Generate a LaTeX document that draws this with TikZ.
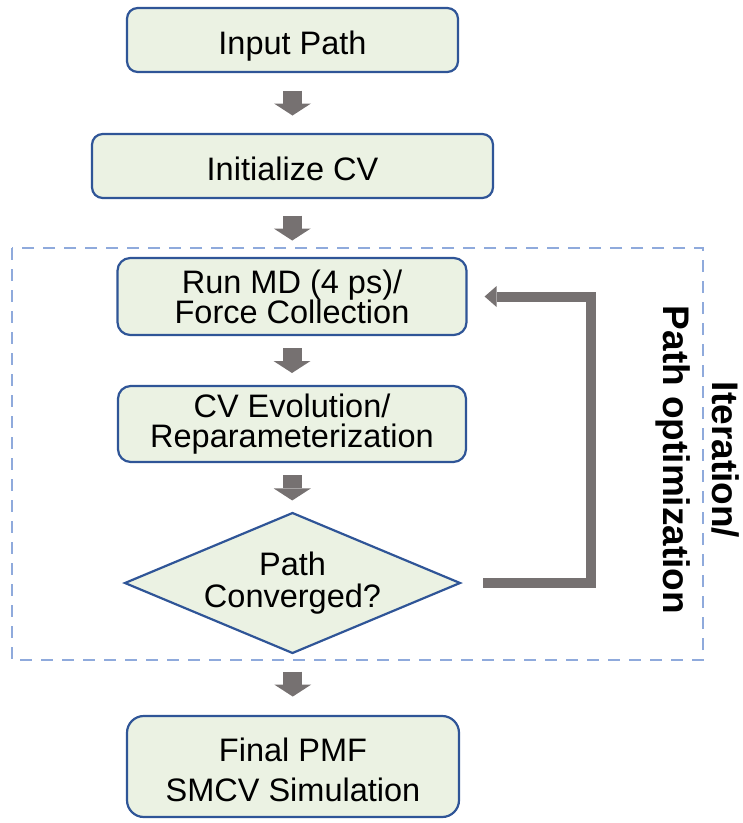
\documentclass[tikz,border=0pt]{standalone}
\usepackage{fontspec}
\setmainfont{Liberation Sans}
\usetikzlibrary{arrows.meta,calc}
\definecolor{boxfill}{HTML}{EBF2E3}
\definecolor{boxline}{HTML}{2F5597}
\definecolor{arrowgray}{HTML}{767171}
\definecolor{dashblue}{HTML}{8FAADC}
\newcommand\flowfont{\fontsize{32.5}{30}\selectfont\lineskiplimit=-100pt\relax}
\newcommand\sidefont{\fontsize{37}{49}\selectfont\bfseries\lineskiplimit=-100pt\relax}
\begin{document}
\begin{tikzpicture}[x=1pt,y=-1pt,
  box/.style={draw=boxline, fill=boxfill, line width=2.2pt, inner sep=0pt, align=center, font=\flowfont},
  oneline/.style={text height=28pt, text depth=0pt},
  dia/.style={draw=boxline, fill=boxfill, line width=2.2pt, line join=miter},
  barrow/.style={color=arrowgray, line width=19pt, -{Triangle[width=37pt,length=12pt,line width=0pt]}},
  fback/.style={color=arrowgray, line width=10pt, line join=miter, -{Triangle[width=21pt,length=12pt,line width=0pt]}},
  group/.style={draw=dashblue, line width=2.5pt, dash pattern=on 12pt off 9pt}]
\useasboundingbox (0,0) rectangle (743,823);

% dashed iteration group
\draw[group] (12,248) rectangle (703,660);

% boxes
\node[box, oneline, rounded corners=10.7pt, minimum width=331pt, minimum height=64pt] (inp) at (292.5,40) {Input Path};
\node[box, oneline, rounded corners=10.7pt, minimum width=401pt, minimum height=64pt] (init) at (292.5,166) {Initialize CV};
\node[box, rounded corners=12.8pt, minimum width=349pt, minimum height=77pt] (md) at (292,296.5) {Run MD (4 ps)/\\Force Collection};
\node[box, rounded corners=12.7pt, minimum width=348pt, minimum height=76pt] (evo) at (292,424) {CV Evolution/\\Reparameterization};
\draw[dia] (292.5,513) -- (460,583) -- (292.5,653) -- (125,583) -- cycle;
\node[font=\flowfont, align=center, inner sep=0pt, minimum width=335pt, minimum height=140pt] (conv) at (292.5,583) {Path\\[2pt]Converged?};
\node[box, rounded corners=16.8pt, minimum width=332pt, minimum height=101pt] (fin) at (293,766.5) {\rule{0pt}{31pt}Final PMF\\[10pt]SMCV Simulation};

% block arrows
\draw[barrow] ($(inp.south)!0.5!(init.north)+(0,-12.5)$) -- ($(inp.south)!0.5!(init.north)+(0,12.5)$);
\draw[barrow] ($(init.south)!0.5!(md.north)+(0,-12.5)$) -- ($(init.south)!0.5!(md.north)+(0,12.5)$);
\draw[barrow] ($(md.south)!0.5!(evo.north)+(0,-12.5)$) -- ($(md.south)!0.5!(evo.north)+(0,12.5)$);
\draw[barrow] ($(evo.south)!0.5!(conv.north)+(0,-12.5)$) -- ($(evo.south)!0.5!(conv.north)+(0,12.5)$);
\draw[barrow] ($(conv.south)!0.5!(fin.north)+(0,-12.5)$) -- ($(conv.south)!0.5!(fin.north)+(0,12.5)$);

% feedback loop
\draw[fback] ([xshift=23pt]conv.east) -- ++(108,0) |- ([xshift=17pt]md.east);

% side label
\node[font=\sidefont, rotate=-90, align=center, inner sep=0pt] (iter) at (698,460) {Iteration/\\Path optimization};
\end{tikzpicture}
\end{document}
